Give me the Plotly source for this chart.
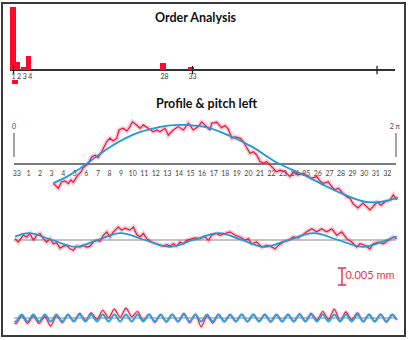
import plotly.graph_objects as go

# ---------------- data ----------------
# Order analysis (amplitude, arbitrary units)
ORDERS = [1, 2, 3, 4, 28, 33]
ORDER_AMPL = [6.3, 0.8, 0.35, 1.4, 0.7, 0.33]
ORDER_LABELS = ["1", "2", "3", "4", "28", "33"]
ORDER_NEG = [1]
ORDER_NEG_BASE = [-1.0]
ORDER_NEG_LEN = [-0.4]
ORDER_TICKS = [1, 33, 66]

# Profile & pitch: x in tooth pitches (33 teeth = 2*pi), y in micrometres
TOOTH_LABELS = ["33"] + [str(i) for i in range(1, 33)]

ROW1_RED_T = [3.40, 3.83, 4.12, 4.41, 4.69, 4.92, 5.12, 5.42, 5.53, 5.79, 5.96, 6.28, 6.42, 6.71, 7.00,
              7.26, 7.58, 8.01, 8.29, 8.58, 8.87, 9.07, 9.44, 9.74, 10.02, 10.22, 10.51, 10.89, 11.17,
              11.60, 12.03, 12.33, 12.61, 13.04, 13.33, 13.76, 14.19, 14.63, 15.06, 15.49, 15.92, 16.22,
              16.65, 16.93, 17.08, 17.51, 17.94, 18.23, 18.51, 18.81, 19.09, 19.52, 19.81, 20.10, 20.39,
              20.67, 20.97, 21.25, 21.54, 21.83, 22.12, 22.40, 22.69, 22.98, 23.41, 23.84, 24.13, 24.56,
              24.99, 25.42, 25.72, 26.15, 26.44, 26.72, 27.15, 27.45, 27.73, 28.02, 28.31, 28.74, 29.03,
              29.31, 29.72, 30.15, 30.75, 31.36, 31.71, 32.05, 32.48, 32.77, 33.06]
ROW1_RED = [-5.7, -7.1, -5.2, -5.0, -5.7, -4.7, -5.4, -3.7, -3.2, -2.3, -1.2, -0.3, 0.2, 2.1, 2.6,
            1.9, 3.6, 6.6, 7.6, 6.8, 7.6, 10.0, 10.5, 9.7, 11.0, 12.4, 11.7, 10.5, 11.5,
            10.5, 9.5, 10.0, 9.5, 10.5, 8.5, 10.0, 11.0, 10.0, 12.0, 10.0, 11.0, 12.4,
            11.0, 10.0, 12.0, 12.3, 10.7, 11.3, 10.3, 7.6, 8.0, 7.6, 6.6, 4.6, 3.1,
            3.6, 2.6, 0.7, 0.2, 0.7, -0.3, -1.3, -2.3, -1.8, -2.3, -3.7, -2.3, -3.2,
            -2.7, -3.7, -4.2, -3.7, -5.0, -5.7, -5.2, -6.7, -7.6, -7.1, -8.3, -9.6, -10.1,
            -11.8, -12.9, -11.5, -13.5, -11.2, -12.1, -11.1, -10.6, -9.1, -10.6]
ROW1_FIT_T = [3.37, 4.84, 6.13, 8.44, 10.74, 13.30, 14.77, 16.76, 18.81, 20.54, 22.83, 25.14, 26.87,
              28.59, 30.32, 31.76, 33.17]
ROW1_FIT = [-5.7, -3.2, -0.3, 5.3, 9.2, 11.3, 11.5, 10.7, 8.0, 5.1, 0.2, -3.4, -6.4, -9.1, -11.1, -11.1, -9.9]

ROW2_RED_T = [0.09, 0.37, 0.80, 1.10, 1.38, 1.67, 1.96, 2.25, 2.53, 2.82, 3.11, 3.40, 3.69, 3.97, 4.26,
              4.55, 4.84, 5.12, 5.42, 5.70, 5.99, 6.28, 6.57, 6.85, 7.14, 7.43, 7.71, 8.01, 8.29, 8.58,
              9.01, 9.30, 9.59, 10.02, 10.31, 10.60, 10.89, 11.17, 11.46, 11.90, 12.33, 12.61, 12.90,
              13.19, 13.48, 13.76, 14.06, 14.34, 14.63, 14.92, 15.20, 15.64, 16.07, 16.50, 16.79, 17.08,
              17.51, 17.80, 18.23, 18.66, 19.09, 19.52, 19.96, 20.24, 20.53, 20.97, 21.40, 21.83, 22.12,
              22.55, 22.83, 23.26, 23.70, 24.13, 24.56, 24.85, 25.29, 25.72, 26.15, 26.58, 27.01, 27.45,
              27.88, 28.31, 28.74, 29.17, 29.61, 29.89, 30.32, 30.75, 31.04, 31.47, 31.90, 32.34, 32.77,
              33.06]
ROW2_RED = [0.4, -0.6, 1.4, 0.9, 1.9, -0.1, 1.4, 1.9, 0.4, -0.6, 0.4, -1.1, -0.8, -2.4, -1.8,
            -1.6, -2.6, -3.0, -1.8, -2.1, -1.6, -2.1, -1.8, -0.6, -0.1, -0.4, 1.4, 2.4, 0.9, 2.4,
            3.8, 2.9, 3.5, 2.9, 3.8, 1.6, 0.9, 1.9, 0.4, -0.6, -1.1, -1.6, -1.8,
            -1.4, -1.8, -1.1, -1.8, -0.6, -1.1, -0.1, 0.2, 0.6, 0.4, 1.0, -0.1, 1.4,
            1.9, 1.4, 1.9, 2.4, 1.4, 0.9, -0.1, 0.4, -1.1, -0.6, -2.1, -1.6, -1.8,
            -2.6, -1.6, -0.6, -0.1, 0.9, 0.6, 1.4, 2.4, 3.3, 2.4, 3.3, 2.4, 3.3,
            1.4, 2.4, 0.4, -0.6, -2.1, -1.1, -1.6, -2.6, -1.1, -0.6, -1.1, -0.1, 0.9,
            0.4]
ROW2_FIT_T = [0.09, 1.3, 3.3, 5.3, 7.2, 9.2, 11.3, 13.4, 15.5, 17.7, 19.7, 21.6, 23.7, 25.9, 28.0,
              30.1, 32.2, 33.06]
ROW2_FIT = [1.0, 2.0, 0.0, -2.0, 0.0, 2.0, 0.0, -2.0, 0.0, 2.0, 0.0, -2.0, 0.0, 2.0, 0.0, -2.0, 0.0, 1.1]

ROW3_T = [0.05, 0.17, 0.67, 1.17, 1.67, 2.17, 2.67, 3.17, 3.67, 4.17, 4.67, 5.17, 5.67, 6.17, 6.67,
          7.17, 7.67, 8.17, 8.67, 9.17, 9.67, 10.17, 10.67, 11.17, 11.67, 12.17, 12.67, 13.17, 13.67,
          14.17, 14.67, 15.17, 15.67, 16.17, 16.67, 17.17, 17.67, 18.17, 18.67, 19.17, 19.67, 20.17,
          20.67, 21.17, 21.67, 22.17, 22.67, 23.17, 23.67, 24.17, 24.67, 25.17, 25.67, 26.17, 26.67,
          27.17, 27.67, 28.17, 28.67, 29.17, 29.67, 30.17, 30.67, 31.17, 31.67, 32.17, 32.67, 33.06]
ROW3_FIT = [-0.9, -1.0, 1.0, -1.0, 1.0, -1.0, 1.0, -1.0, 1.0, -1.0, 1.0, -1.0, 1.0, -1.0, 1.0,
            -1.0, 1.0, -1.0, 1.0, -1.0, 1.0, -1.0, 1.0, -1.0, 1.0, -1.0, 1.0, -1.0, 1.0,
            -1.0, 1.0, -1.0, 1.0, -1.0, 1.0, -1.0, 1.0, -1.0, 1.0, -1.0, 1.0, -1.0,
            1.0, -1.0, 1.0, -1.0, 1.0, -1.0, 1.0, -1.0, 1.0, -1.0, 1.0, -1.0, 1.0,
            -1.0, 1.0, -1.0, 1.0, -1.0, 1.0, -1.0, 1.0, -1.0, 1.0, -1.0, 1.0, -0.5]
ROW3_RED = [-1.4, -1.7, 0.6, -1.6, 0.5, -1.6, 0.4, -2.4, 0.6, -1.4, 0.9, -0.9, 1.4, -0.7, 1.5,
            -0.4, 2.3, 0.0, 2.6, 0.2, 2.9, 0.4, 1.9, -0.7, 1.1, -1.3, 0.9, -1.2, 1.0,
            -1.1, 1.4, -1.4, 1.1, -2.6, 0.6, -1.5, 0.9, -1.1, 0.9, -1.0, 1.1, -1.1,
            1.0, -0.9, 1.0, -1.2, 0.9, -1.0, 1.0, -1.0, 1.2, -0.9, 1.4, -0.6, 1.9,
            -0.4, 2.6, -0.8, 1.8, -0.5, 1.5, -1.1, 1.0, -1.0, 1.1, -1.2, 0.9, -0.6]

SCALE_UM = 5.0
SCALE_TEXT = "0.005 mm"

# ---------------- style / geometry ----------------
W, H = 414, 340
RED = "#e8143c"
HALO = "rgba(240,90,120,0.30)"
BLUE = "#1e9ad6"
BAR_RED = "#ff0a2a"
GRAY = "#7a7a7a"
FONT = "Lato"
PX_PER_TOOTH = 11.576
PX_PER_UM = 3.4
PX_PER_ORDER = 5.593


def fx(p):
    return p / W


def fy(p):
    return 1 - p / H


# profile x-axis: px 10..400, t=0 at px 14
T0 = -(14 - 10) / PX_PER_TOOTH
T1 = (400 - 14) / PX_PER_TOOTH


def yrange(top_px, zero_px, bot_px):
    return [-(bot_px - zero_px) / PX_PER_UM, (zero_px - top_px) / PX_PER_UM]


fig = go.Figure()

# ---- Order analysis ----
fig.add_trace(go.Bar(x=ORDERS, y=ORDER_AMPL, width=[1.25, 0.9, 0.8, 0.9, 0.95, 1.0],
                     marker=dict(color=BAR_RED, line=dict(width=0)), xaxis="x", yaxis="y"))
fig.add_trace(go.Bar(x=ORDER_NEG, y=ORDER_NEG_LEN, base=ORDER_NEG_BASE, width=0.95,
                     marker=dict(color=BAR_RED, line=dict(width=0)), xaxis="x", yaxis="y"))
fig.add_trace(go.Scatter(x=ORDER_TICKS, y=[0] * len(ORDER_TICKS), mode="markers",
                         marker=dict(symbol="line-ns", size=6, line=dict(width=1.3, color="#222")),
                         xaxis="x", yaxis="y", cliponaxis=False))
fig.add_trace(go.Scatter(x=ORDERS, y=[-0.72] * len(ORDERS), mode="text", text=ORDER_LABELS,
                         textfont=dict(family=FONT, size=7, color="#444"), xaxis="x", yaxis="y",
                         cliponaxis=False))

# ---- Profile row 1 ----
tooth_x = [k + 0.25 for k in range(len(TOOTH_LABELS))]
fig.add_trace(go.Scatter(x=[0, 33], y=[0, 0], mode="lines", line=dict(color=GRAY, width=2.2),
                         xaxis="x2", yaxis="y2"))
fig.add_trace(go.Scatter(x=[0, 0], y=[(164 - 133) / PX_PER_UM, (164 - 157) / PX_PER_UM], mode="lines",
                         line=dict(color="#9a9a9a", width=1.8), xaxis="x2", yaxis="y2"))
fig.add_trace(go.Scatter(x=[33, 33], y=[(164 - 133) / PX_PER_UM, (164 - 157) / PX_PER_UM], mode="lines",
                         line=dict(color="#9a9a9a", width=1.8), xaxis="x2", yaxis="y2"))
fig.add_trace(go.Scatter(x=[0, 32.9], y=[(164 - 127) / PX_PER_UM] * 2, mode="text", text=["0", "2 π"],
                         textfont=dict(family=FONT, size=7, color="#444"), xaxis="x2", yaxis="y2",
                         cliponaxis=False))
fig.add_trace(go.Scatter(x=tooth_x, y=[(164 - 174) / PX_PER_UM] * len(tooth_x), mode="text",
                         text=TOOTH_LABELS, textfont=dict(family=FONT, size=7, color="#444"),
                         xaxis="x2", yaxis="y2", cliponaxis=False))
fig.add_trace(go.Scatter(x=ROW1_RED_T, y=ROW1_RED, mode="lines", line=dict(color=HALO, width=4.5),
                         xaxis="x2", yaxis="y2"))
fig.add_trace(go.Scatter(x=ROW1_RED_T, y=ROW1_RED, mode="lines", line=dict(color=RED, width=1.2),
                         xaxis="x2", yaxis="y2"))
fig.add_trace(go.Scatter(x=ROW1_FIT_T, y=ROW1_FIT, mode="lines", line=dict(color=BLUE, width=1.8, shape="spline"),
                         xaxis="x2", yaxis="y2"))

# ---- Profile row 2 ----
fig.add_trace(go.Scatter(x=[0, 33], y=[0, 0], mode="lines", line=dict(color="#8a8a8a", width=1.2),
                         xaxis="x2", yaxis="y3"))
fig.add_trace(go.Scatter(x=ROW2_RED_T, y=ROW2_RED, mode="lines", line=dict(color=HALO, width=4.5),
                         xaxis="x2", yaxis="y3"))
fig.add_trace(go.Scatter(x=ROW2_RED_T, y=ROW2_RED, mode="lines", line=dict(color=RED, width=1.2),
                         xaxis="x2", yaxis="y3"))
fig.add_trace(go.Scatter(x=ROW2_FIT_T, y=ROW2_FIT, mode="lines", line=dict(color=BLUE, width=1.8, shape="spline"),
                         xaxis="x2", yaxis="y3"))
# scale bar
sb_x = (342 - 14) / PX_PER_TOOTH
sb_top = (240 - 268) / PX_PER_UM
fig.add_trace(go.Scatter(x=[sb_x, sb_x], y=[sb_top, sb_top - SCALE_UM], mode="lines+markers",
                         line=dict(color="#e8334a", width=1.5),
                         marker=dict(symbol="line-ew", size=6, line=dict(width=1.5, color="#e8334a")),
                         xaxis="x2", yaxis="y3", cliponaxis=False))
fig.add_trace(go.Scatter(x=[sb_x + 0.3], y=[sb_top - SCALE_UM / 2], mode="text", text=[SCALE_TEXT],
                         textposition="middle right",
                         textfont=dict(family=FONT, size=11, color="#e8334a"),
                         xaxis="x2", yaxis="y3", cliponaxis=False))

# ---- Profile row 3 ----
fig.add_trace(go.Scatter(x=[0, 33], y=[0, 0], mode="lines", line=dict(color="#8a8a8a", width=1.2),
                         xaxis="x2", yaxis="y4"))
fig.add_trace(go.Scatter(x=ROW3_T, y=ROW3_RED, mode="lines",
                         line=dict(color="rgba(240,90,120,0.25)", width=3.5, shape="spline", smoothing=0.8),
                         xaxis="x2", yaxis="y4"))
fig.add_trace(go.Scatter(x=ROW3_T, y=ROW3_RED, mode="lines",
                         line=dict(color=RED, width=1.1, shape="spline", smoothing=0.8),
                         xaxis="x2", yaxis="y4"))
fig.add_trace(go.Scatter(x=ROW3_T, y=ROW3_FIT, mode="lines", line=dict(color="#2aa3de", width=2.0, shape="spline"),
                         xaxis="x2", yaxis="y4"))

hidden = dict(showgrid=False, showticklabels=False, ticks="", showline=False, zeroline=False, fixedrange=True)

fig.update_layout(
    width=W, height=H, margin=dict(l=0, r=0, t=0, b=0),
    paper_bgcolor="white", plot_bgcolor="rgba(0,0,0,0)",
    showlegend=False, bargap=0,
    xaxis=dict(domain=[fx(10), fx(395)], range=[1 - (13.5 - 10) / PX_PER_ORDER, 1 + (395 - 13.5) / PX_PER_ORDER],
               anchor="y", **hidden),
    yaxis=dict(domain=[fy(88), fy(5)], range=[-(88 - 70) / 10, (70 - 5) / 10], anchor="x",
               showgrid=False, showticklabels=False, ticks="", showline=False,
               zeroline=True, zerolinecolor="#333", zerolinewidth=1.5),
    xaxis2=dict(domain=[fx(10), fx(400)], range=[T0, T1], anchor="y2", **hidden),
    yaxis2=dict(domain=[fy(212), fy(108)], range=yrange(108, 164, 212), anchor="x2", **hidden),
    yaxis3=dict(domain=[fy(292), fy(216)], range=yrange(216, 240, 292), anchor="x2", **hidden),
    yaxis4=dict(domain=[fy(334), fy(296)], range=yrange(296, 318, 334), anchor="x2", **hidden),
    shapes=[
        dict(type="rect", xref="paper", yref="paper", x0=fx(2), x1=fx(405), y0=fy(336), y1=fy(3),
             line=dict(color="#3a3a3a", width=2), fillcolor="rgba(0,0,0,0)", layer="above"),
    ],
    annotations=[
        dict(text="<b>Order Analysis</b>", x=fx(195.5), y=fy(17.5), xref="paper", yref="paper",
             showarrow=False, font=dict(family=FONT, size=12.5, color="#111"), xanchor="center", yanchor="middle"),
        dict(text="<b>Profile &amp; pitch left</b>", x=fx(206.5), y=fy(103), xref="paper", yref="paper",
             showarrow=False, font=dict(family=FONT, size=12.5, color="#111"), xanchor="center", yanchor="middle"),
    ],
)

fig.write_html("out.html")
